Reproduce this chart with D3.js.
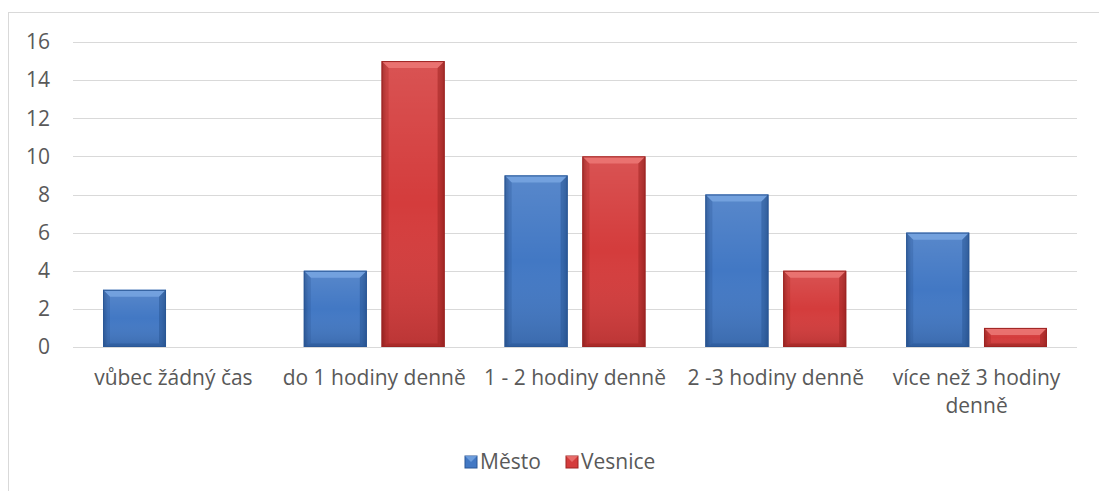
<!DOCTYPE html>
<html><head><meta charset="utf-8">
<script src="https://cdn.jsdelivr.net/npm/d3@7"></script>
<style>body{margin:0;background:#fff;} svg{display:block;}</style>
</head><body>
<svg id="c" width="1099" height="491"></svg>
<script>
const categories = ["vůbec žádný čas","do 1 hodiny denně","1 - 2 hodiny denně","2 -3 hodiny denně","více než 3 hodiny denně"];
const seriesNames = ["Město","Vesnice"];
const mesto = [3,4,9,8,6];
const vesnice = [0,15,10,4,1];
const yTicks = [0,2,4,6,8,10,12,14,16];
const colors = {"Město":["#2a5796","#4278c4","#78a6e2"], "Vesnice":["#9e2422","#d43c3c","#ec7876"]};

const FONT = "'Open Sans', sans-serif";
const FS = 21;
const svg = d3.select("#c");
const defs = svg.append("defs");
seriesNames.forEach((s,i)=>{
  const c = colors[s];
  const g = defs.append("linearGradient").attr("id","g"+i).attr("x1","0").attr("x2","1").attr("y1","0").attr("y2","0");
  g.append("stop").attr("offset","0").attr("stop-color",c[0]);
  g.append("stop").attr("offset","0.08").attr("stop-color",c[1]);
  g.append("stop").attr("offset","0.92").attr("stop-color",c[1]);
  g.append("stop").attr("offset","1").attr("stop-color",c[0]);
});
const vg = defs.append("linearGradient").attr("id","vshade").attr("x1","0").attr("x2","0").attr("y1","0").attr("y2","1");
vg.append("stop").attr("offset","0").attr("stop-color","#fff").attr("stop-opacity",0.12);
vg.append("stop").attr("offset","0.5").attr("stop-color","#fff").attr("stop-opacity",0.0);
vg.append("stop").attr("offset","1").attr("stop-color","#000").attr("stop-opacity",0.12);

// chart frame
svg.append("rect").attr("x",8.5).attr("y",12.5).attr("width",1100).attr("height",500)
  .attr("fill","none").attr("stroke","#d9d9d9").attr("stroke-width",1);

const y = d3.scaleLinear().domain([0,16]).range([347,42]);
const x0 = d3.scaleBand().domain(categories).range([73,1077]).padding(0);
const x1 = d3.scaleBand().domain(seriesNames).range([30, x0.bandwidth()-30]).paddingInner(0.19);

// gridlines
svg.append("g").selectAll("line").data(yTicks).join("line")
  .attr("x1",73).attr("x2",1077).attr("y1",d=>Math.round(y(d))+0.5).attr("y2",d=>Math.round(y(d))+0.5)
  .attr("stroke","#d9d9d9").attr("stroke-width",1);

// y labels
svg.append("g").selectAll("text").data(yTicks).join("text")
  .attr("x",50).attr("y",d=>y(d)).attr("dy","0.35em").attr("text-anchor","end")
  .attr("font-family",FONT).attr("font-size",FS).attr("fill","#595959").text(d=>d);

const data = [];
categories.forEach((c,i)=>{
  data.push({cat:c, s:"Město", v:mesto[i], si:0});
  data.push({cat:c, s:"Vesnice", v:vesnice[i], si:1});
});

const bars = svg.append("g").selectAll("g").data(data.filter(d=>d.v>0)).join("g");
bars.each(function(d){
  const g = d3.select(this);
  const bx = x0(d.cat)+x1(d.s), bw = x1.bandwidth();
  const by = y(d.v), bh = y(0)-y(d.v);
  const c = colors[d.s];
  const bev = 7;
  g.append("rect").attr("x",bx).attr("y",by).attr("width",bw).attr("height",bh)
    .attr("fill","url(#g"+d.si+")");
  g.append("rect").attr("x",bx).attr("y",by).attr("width",bw).attr("height",bh)
    .attr("fill","url(#vshade)");
  g.append("path").attr("d",`M${bx},${by}L${bx+bw},${by}L${bx+bw-bev},${by+bev}L${bx+bev},${by+bev}Z`)
    .attr("fill",c[2]).attr("opacity",0.85);
  g.append("path").attr("d",`M${bx},${by}L${bx+bev},${by+bev}L${bx+bev},${by+bh-bev/2}L${bx},${by+bh}Z`)
    .attr("fill",c[0]).attr("opacity",0.3);
  g.append("path").attr("d",`M${bx+bw},${by}L${bx+bw-bev},${by+bev}L${bx+bw-bev},${by+bh-bev/2}L${bx+bw},${by+bh}Z`)
    .attr("fill",c[0]).attr("opacity",0.55);
  g.append("path").attr("d",`M${bx},${by+bh}L${bx+bev},${by+bh-bev/2}L${bx+bw-bev},${by+bh-bev/2}L${bx+bw},${by+bh}Z`)
    .attr("fill",c[0]).attr("opacity",0.6);
  g.append("rect").attr("x",bx+0.5).attr("y",by+0.5).attr("width",bw-1).attr("height",bh-1)
    .attr("fill","none").attr("stroke",c[0]).attr("stroke-width",1);
});

// category labels with wrapping
const labels = svg.append("g").selectAll("text").data(categories).join("text")
  .attr("x",d=>x0(d)+x0.bandwidth()/2).attr("y",385).attr("text-anchor","middle")
  .attr("font-family",FONT).attr("font-size",FS).attr("fill","#595959");
labels.each(function(d){
  const t = d3.select(this);
  const words = d.split(" ");
  const maxW = x0.bandwidth()-4;
  let line = [], lines = [];
  const tmp = t.append("tspan");
  words.forEach(w=>{
    line.push(w);
    tmp.text(line.join(" "));
    if (tmp.node().getComputedTextLength() > maxW && line.length>1){
      line.pop(); lines.push(line.join(" ")); line=[w];
    }
  });
  lines.push(line.join(" "));
  tmp.remove();
  lines.forEach((l,i)=>{
    t.append("tspan").attr("x",x0(d)+x0.bandwidth()/2).attr("dy", i===0?0:28).text(l);
  });
});

// legend
const legend = svg.append("g");
const legX = [465, 566];
seriesNames.forEach((s,i)=>{
  const c = colors[s];
  legend.append("rect").attr("x",legX[i]).attr("y",456).attr("width",12).attr("height",12)
    .attr("fill",c[1]).attr("stroke",c[0]);
  legend.append("path").attr("d",`M${legX[i]},456L${legX[i]+12},456L${legX[i]+6},462Z`).attr("fill",c[2]).attr("opacity",0.8);
  legend.append("text").attr("x",legX[i]+15).attr("y",462).attr("dy","0.35em")
    .attr("font-family",FONT).attr("font-size",FS).attr("fill","#595959").text(s);
});
</script>
</body></html>
